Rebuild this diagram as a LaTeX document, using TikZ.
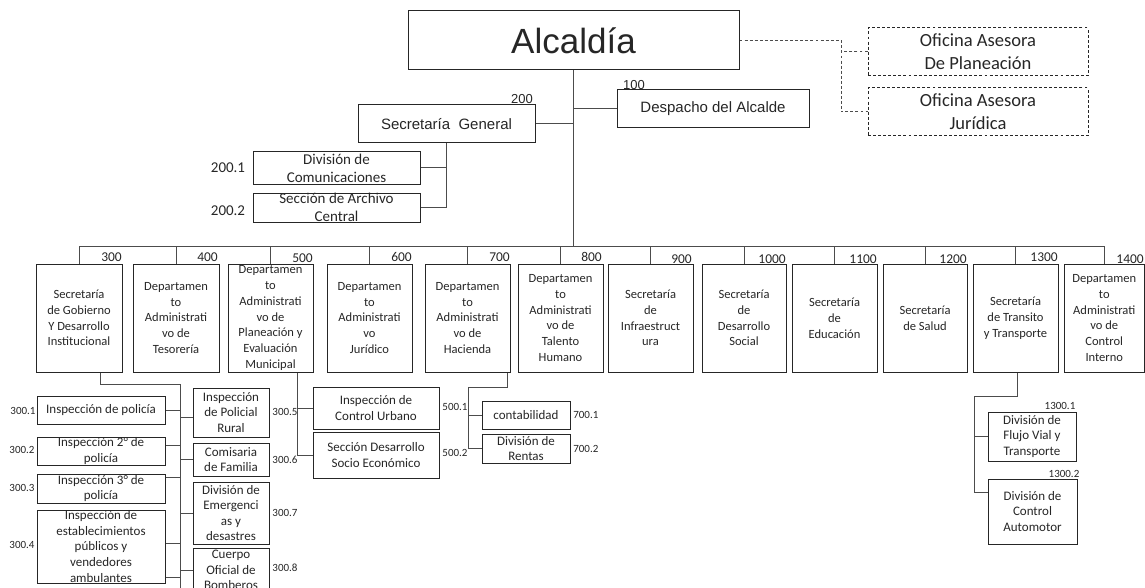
\documentclass[tikz,border=0pt]{standalone}
\usepackage{fontspec}
\setmainfont{Carlito}
\newfontfamily\arialf{Liberation Sans}
\usetikzlibrary{calc}
\begin{document}
\begin{tikzpicture}[x=0.75pt,y=-0.75pt,
  box/.style={draw=black!85, line width=0.75pt, inner sep=0pt, align=center, text=black!85},
  sz/.style 2 args={minimum width=#1*0.75pt, minimum height=#2*0.75pt},
  dbox/.style={box, dash pattern=on 2.2pt off 1.6pt},
  ln/.style={draw=black!70, line width=0.75pt},
  dsh/.style={ln, dash pattern=on 2.2pt off 1.6pt},
  topf/.style={font=\arialf\fontsize{11.25}{13.5}\selectfont},
  rowf/.style={font=\fontsize{9.4}{11.85}\selectfont},
  botf/.style={font=\fontsize{9.75}{11.7}\selectfont},
  num/.style={font=\fontsize{10.1}{12}\selectfont, text=black!85, inner sep=0pt},
  anum/.style={font=\arialf\fontsize{9.75}{12}\selectfont, text=black!85, inner sep=0pt},
  lab/.style={font=\fontsize{8.25}{10}\selectfont, text=black!85, inner sep=0pt},
]
\useasboundingbox (0,0) rectangle (1145,588);
\clip (0,0) rectangle (1145,588);

% ---- top level
\node[box, sz={331}{59}, font=\arialf\fontsize{26.25}{30}\selectfont] (alc) at (573.5,40.5) {Alcaldía};
\node[box, sz={192}{38}, topf] (desp) at (713,109) {Despacho del Alcalde};
\node[box, sz={177}{38}, topf] (sg) at (446.5,124) {Secretaría\ \ General};
\node[anum] (l100) at (634,85) {100};
\node[anum] (l200) at (522,99) {200};

\node[dbox, sz={220}{48}, font=\fontsize{13.9}{17.25}\selectfont] (op) at (978,52) {Oficina Asesora\\De Planeación};
\node[dbox, sz={220}{48}, font=\fontsize{13.9}{17.25}\selectfont] (ojur) at (978,112) {Oficina Asesora\\Jurídica};

\node[box, sz={167}{32}, font=\fontsize{11.25}{13.7}\selectfont] (d2001) at (336.5,168) {División de\\Comunicaciones};
\node[box, sz={167}{29}, font=\fontsize{11.25}{13.7}\selectfont] (d2002) at (336.5,207.5) {Sección de Archivo\\Central};
\node[num, font=\fontsize{11.25}{13}\selectfont] (l2001) at (228,168) {200.1};
\node[num, font=\fontsize{11.25}{13}\selectfont] (l2002) at (228,211) {200.2};

% ---- row
\node[box, rowf, sz={86}{108}] (n300) at (79,318) {Secretaría\\de Gobierno\\Y Desarrollo\\Institucional};
\node[box, rowf, sz={86}{108}] (n400) at (176,318) {Departamen\\to\\Administrati\\vo de\\Tesorería};
\node[box, rowf, sz={85}{108}] (n500) at (270.5,318) {Departamen\\to\\Administrati\\vo de\\Planeación y\\Evaluación\\Municipal};
\node[box, rowf, sz={85}{108}] (n600) at (369.5,318) {Departamen\\to\\Administrati\\vo\\Jurídico};
\node[box, rowf, sz={85}{108}] (n700) at (467.5,318) {Departamen\\to\\Administrati\\vo de\\Hacienda};
\node[box, rowf, sz={85}{108}] (n800) at (560.5,318) {Departamen\\to\\Administrati\\vo de\\Talento\\Humano};
\node[box, rowf, sz={85}{108}] (n900) at (650.5,318) {Secretaría\\de\\Infraestruct\\ura};
\node[box, rowf, sz={84}{108}] (n1000) at (744,318) {Secretaría\\de\\Desarrollo\\Social};
\node[box, rowf, sz={85}{108}] (n1100) at (834.5,318) {Secretaría\\de\\Educación};
\node[box, rowf, sz={84}{108}] (n1200) at (925,318) {Secretaría\\de Salud};
\node[box, rowf, sz={85}{108}] (n1300) at (1015.5,318) {Secretaría\\de Transito\\y Transporte};
\node[box, rowf, sz={80.5}{108}] (n1400) at (1104.25,318) {Departamen\\to\\Administrati\\vo de\\Control\\Interno};

\node[num, anchor=east] (l300) at (122,257) {300};
\node[num, anchor=east] (l400) at (218,257) {400};
\node[num, anchor=east] (l500) at (313,258) {500};
\node[num, anchor=east] (l600) at (412,257) {600};
\node[num, anchor=east] (l700) at (510,257) {700};
\node[num, anchor=east] (l800) at (602,257) {800};
\node[num, anchor=east] (l900) at (692,259) {900};
\node[num, anchor=east] (l1000) at (786,259) {1000};
\node[num, anchor=east] (l1100) at (877,259) {1100};
\node[num, anchor=east] (l1200) at (967,259) {1200};
\node[num, anchor=east] (l1300) at (1058,257) {1300};
\node[num, anchor=east] (l1400) at (1144,259) {1400};

% ---- 300 children
\node[box, botf, sz={128}{28}] (i1) at (101,410) {Inspección de policía};
\node[box, botf, sz={128}{28}] (i2) at (101,451) {Inspección 2° de\\policía};
\node[box, botf, sz={128}{29}] (i3) at (101,488.5) {Inspección 3° de\\policía};
\node[box, botf, sz={128}{73}] (i4) at (101,546.5) {Inspección de\\establecimientos\\públicos y\\vendedores\\ambulantes};
\node[box, botf, sz={76}{49}] (r1) at (231,412.5) {Inspección\\de Policial\\Rural};
\node[box, botf, sz={76}{33}] (r2) at (231,459.5) {Comisaria\\de Familia};
\node[box, botf, sz={76}{62}] (r3) at (231,513) {División de\\Emergenci\\as y\\desastres};
\node[box, botf, sz={76}{44}] (r4) at (231,570) {Cuerpo\\Oficial de\\Bomberos};
\node[lab] (l3001) at (23,411) {300.1};
\node[lab] (l3002) at (22,450) {300.2};
\node[lab] (l3003) at (22,488) {300.3};
\node[lab] (l3004) at (22,545) {300.4};
\node[lab] (l3005) at (285,412) {300.5};
\node[lab] (l3006) at (285,460) {300.6};
\node[lab] (l3007) at (285,513) {300.7};
\node[lab] (l3008) at (285,568) {300.8};

% ---- 500 children
\node[box, botf, sz={126}{42}] (cu) at (376,408) {Inspección de\\Control Urbano};
\node[box, botf, sz={126}{46}] (sd) at (376,455) {Sección Desarrollo\\Socio Económico};
\node[lab] (l5001) at (455,407) {500.1};
\node[lab] (l5002) at (455,453) {500.2};

% ---- 700 children
\node[box, botf, sz={88}{28}] (cont) at (526,415) {contabilidad};
\node[box, botf, sz={88}{29}] (rent) at (526,448.5) {División de\\Rentas};
\node[lab, anchor=west] (l7001) at (573,415) {700.1};
\node[lab, anchor=west] (l7002) at (573,449) {700.2};

% ---- 1300 children
\node[box, botf, sz={88}{49}] (flujo) at (1032,436.5) {División de\\Flujo Vial y\\Transporte};
\node[box, botf, sz={89}{65}] (ctrl) at (1032.5,511.5) {División de\\Control\\Automotor};
\node[lab] (l13001) at (1060,406) {1300.1};
\node[lab] (l13002) at (1064,474) {1300.2};

% ---- connectors
\coordinate (bus) at (0,246);
\draw[ln] (alc.south) -- (alc.south |- bus);
\draw[ln] (n300.north |- bus) -- (n1400.north |- bus);
\foreach \n in {n300,n400,n500,n600,n700,n800,n900,n1000,n1100,n1200,n1300,n1400}
  \draw[ln] (\n.north) -- (\n.north |- bus);
\draw[ln] (desp.west) -- (desp.west -| alc.south);
\draw[ln] (sg.east) -- (sg.east -| alc.south);
\draw[ln] (sg.south) |- (d2002.east);
\draw[ln] (d2001.east) -- (d2001.east -| sg.south);

\coordinate (dj) at (841,0);
\draw[dsh] (alc.east) -| (dj |- ojur.west) -- (ojur.west);
\draw[dsh] (op.west) -- (op.west -| dj);

\coordinate (g300) at (100,384);
\coordinate (t300) at (180,384);
\coordinate (tend) at (180,592);
\draw[ln] (n300.south -| g300) -- (g300) -- (t300) -- (tend);
\draw[ln] (i1.east) -- (i1.east -| t300);
\draw[ln] ([yshift=4.5pt]i2.east) -- ([yshift=4.5pt]i2.east -| t300);
\draw[ln] ([yshift=8.6pt]i3.east) -- ([yshift=8.6pt]i3.east -| t300);
\draw[ln] ([yshift=2.6pt]i4.east) -- ([yshift=2.6pt]i4.east -| t300);
\draw[ln] ([yshift=-23.6pt]i4.east) -- ([yshift=-23.6pt]i4.east -| t300);
\draw[ln] ([yshift=-3.4pt]r1.west) -- ([yshift=-3.4pt]r1.west -| t300);
\draw[ln] (r2.west) -- (r2.west -| t300);
\draw[ln] (r3.west) -- (r3.west -| t300);
\draw[ln] (r4.west) -- (r4.west -| t300);

\coordinate (g500) at (297,0);
\draw[ln] (n500.south -| g500) |- (sd.west);
\draw[ln] (cu.west) -- (cu.west -| g500);

\coordinate (g700) at (507,387);
\coordinate (h700) at (468,387);
\draw[ln] (n700.south -| g700) -- (g700) -- (h700) |- (rent.west);
\draw[ln] (cont.west) -- (cont.west -| h700);

\coordinate (g13) at (1017,396);
\coordinate (h13) at (974,396);
\draw[ln] (n1300.south -| g13) -- (g13) -- (h13) |- ([yshift=13.9pt]ctrl.west);
\draw[ln] (flujo.west) -- (flujo.west -| h13);
\end{tikzpicture}
\end{document}
